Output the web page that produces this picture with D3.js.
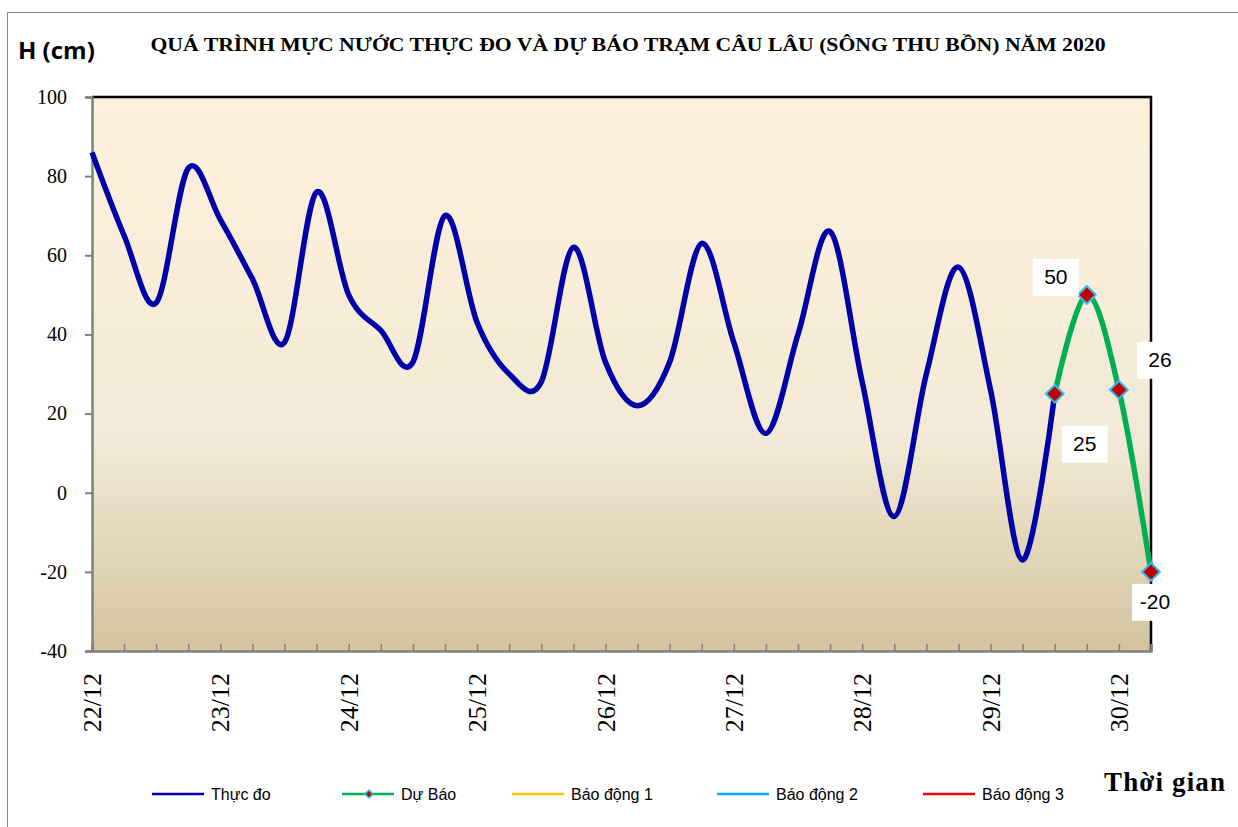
<!DOCTYPE html>
<html>
<head>
<meta charset="utf-8">
<script src="https://cdn.jsdelivr.net/npm/d3@7"></script>
<style>
  html, body { margin: 0; padding: 0; background: #fff; }
  svg { display: block; }
</style>
</head>
<body>
<svg id="chart" width="1238" height="827"></svg>
<script>
// ---------- DATA ----------
const dayLabels = ["22/12","23/12","24/12","25/12","26/12","27/12","28/12","29/12","30/12"];
const stepsPerDay = 4; // observations every 6 hours
// Observed water level (Thực đo), one value per 6 hours, from 22/12
const observed = [86, 65, 48, 82, 69, 54, 38, 76, 50, 41, 33, 70, 43, 30, 28, 62,
                  33, 22, 33, 63, 38, 15, 40, 66, 28, -6, 30, 57, 26, -17, 25];
// Forecast (Dự Báo), starts at index 30
const forecastStart = 30;
const forecast = [25, 50, 26, -20];
const forecastLabels = ["25", "50", "26", "-20"];
const yTicks = [-40, -20, 0, 20, 40, 60, 80, 100];
const legendItems = [
  { name: "Thực đo", color: "#0000A8", marker: false },
  { name: "Dự Báo", color: "#00B050", marker: true },
  { name: "Báo động 1", color: "#FFC000", marker: false },
  { name: "Báo động 2", color: "#00B0F0", marker: false },
  { name: "Báo động 3", color: "#FF0000", marker: false }
];
const title = "QUÁ TRÌNH MỰC NƯỚC THỰC ĐO VÀ DỰ BÁO TRẠM  CÂU LÂU (SÔNG THU BỒN) NĂM  2020";

// ---------- LAYOUT ----------
const SERIF = "'Liberation Serif', 'Times New Roman', serif";
const SANS = "'Liberation Sans', Arial, sans-serif";
const svg = d3.select("#chart");
const plot = { left: 92, right: 1151, top: 97, bottom: 651 };
const nSteps = forecastStart + forecast.length - 1; // 33

const x = d3.scaleLinear().domain([0, nSteps]).range([plot.left, plot.right]);
const y = d3.scaleLinear().domain([-40, 100]).range([plot.bottom, plot.top]);

// outer frame
svg.append("rect").attr("x", 7.5).attr("y", 12.5).attr("width", 1240).attr("height", 830)
  .attr("fill", "none").attr("stroke", "#8a8a8a").attr("stroke-width", 1);

// gradient background
const defs = svg.append("defs");
const grad = defs.append("linearGradient").attr("id", "bg").attr("x1", 0).attr("y1", 0).attr("x2", 0).attr("y2", 1);
grad.append("stop").attr("offset", "0%").attr("stop-color", "#FDF1DC");
grad.append("stop").attr("offset", "62%").attr("stop-color", "#F2EAD6");
grad.append("stop").attr("offset", "100%").attr("stop-color", "#D3C39F");

svg.append("rect").attr("x", plot.left).attr("y", plot.top)
  .attr("width", plot.right - plot.left).attr("height", plot.bottom - plot.top)
  .attr("fill", "url(#bg)");

// top & right border (black)
svg.append("path")
  .attr("d", `M${plot.left},${plot.top}H${plot.right}V${plot.bottom}`)
  .attr("fill", "none").attr("stroke", "#000").attr("stroke-width", 2.5);

// y axis
const yAxis = d3.axisLeft(y).tickValues(yTicks).tickSize(7).tickPadding(18).tickFormat(d => String(d));
const gy = svg.append("g").attr("transform", `translate(${plot.left},0)`).call(yAxis);
gy.attr("font-family", null).attr("font-size", null);
gy.select(".domain").attr("stroke", "#808080").attr("stroke-width", 2.5);
gy.selectAll(".tick line").attr("stroke", "#808080").attr("stroke-width", 2);
gy.selectAll(".tick text").style("font-family", SERIF)
  .style("font-size", "20px").attr("fill", "#000");

// x axis (ticks inside, every 6h)
const xAxis = d3.axisBottom(x).tickValues(d3.range(0, nSteps + 1)).tickSize(-7).tickFormat("");
const gx = svg.append("g").attr("transform", `translate(0,${plot.bottom})`).call(xAxis);
gx.select(".domain").attr("stroke", "#808080").attr("stroke-width", 2.5);
gx.selectAll(".tick line").attr("stroke", "#808080").attr("stroke-width", 1.5);

// x labels (rotated day labels)
svg.append("g").selectAll("text").data(dayLabels).join("text")
  .attr("transform", (d, i) => `translate(${x(i * stepsPerDay)},673) rotate(-90)`)
  .attr("text-anchor", "end").attr("dy", "0.35em")
  .style("font-family", SERIF).style("font-size", "26px").attr("fill", "#000")
  .text(d => d);

// lines
const line = d3.line().x(d => x(d[0])).y(d => y(d[1])).curve(d3.curveCardinal.tension(0));
const obsPts = observed.map((v, i) => [i, v]);
const fcPts = forecast.map((v, i) => [forecastStart + i, v]);

svg.append("path").attr("d", line(obsPts)).attr("fill", "none")
  .attr("stroke", "#0000A8").attr("stroke-width", 5.5).attr("stroke-linejoin", "round");
svg.append("path").attr("d", line(fcPts)).attr("fill", "none")
  .attr("stroke", "#00B050").attr("stroke-width", 5.5).attr("stroke-linejoin", "round");

// markers
const diamond = d3.symbol().type(d3.symbolDiamond2).size(200);
svg.append("g").selectAll("path").data(fcPts).join("path")
  .attr("transform", d => `translate(${x(d[0])},${y(d[1])})`)
  .attr("d", diamond).attr("fill", "#C00000").attr("stroke", "#33BBF0").attr("stroke-width", 2);

// data labels (white boxes)
const labelOffsets = [[30, 50], [-31, -18], [41, -30], [4, 30]];
const lblG = svg.append("g");
fcPts.forEach((d, i) => {
  const cx = x(d[0]) + labelOffsets[i][0];
  const cy = y(d[1]) + labelOffsets[i][1];
  const w = 46;
  lblG.append("rect").attr("x", cx - w / 2).attr("y", cy - 18).attr("width", w).attr("height", 37).attr("fill", "#fff");
  lblG.append("text").attr("x", cx).attr("y", cy).attr("dy", "0.35em").attr("text-anchor", "middle")
    .style("font-family", SANS).style("font-size", "21px").attr("fill", "#000")
    .text(forecastLabels[i]);
});

// title
svg.append("text").attr("x", 628).attr("y", 51).attr("text-anchor", "middle")
  .style("font-family", SERIF).attr("font-weight", "bold")
  .style("font-size", "18px").attr("textLength", 955).attr("lengthAdjust", "spacingAndGlyphs")
  .text(title);

// y axis title
svg.append("text").attr("x", 18).attr("y", 59)
  .style("font-family", "'Open Sans', 'Liberation Sans', sans-serif").attr("font-weight", "bold")
  .style("font-size", "24px").text("H (cm)");

// x axis title
svg.append("text").attr("x", 1104).attr("y", 791)
  .style("font-family", SERIF).attr("font-weight", "bold")
  .style("font-size", "27px").attr("textLength", 121).text("Thời gian");

// legend
const legendX = [152, 342, 512, 717, 923];
const lg = svg.append("g");
legendItems.forEach((it, i) => {
  const g = lg.append("g").attr("transform", `translate(${legendX[i]},794)`);
  g.append("line").attr("x1", 0).attr("x2", 52).attr("y1", 0).attr("y2", 0)
    .attr("stroke", it.color).attr("stroke-width", 2.5);
  if (it.marker) {
    g.append("path").attr("transform", "translate(27,0)")
      .attr("d", d3.symbol().type(d3.symbolDiamond2).size(40))
      .attr("fill", "#C00000").attr("stroke", "#33BBF0").attr("stroke-width", 1.5);
  }
  g.append("text").attr("x", 59).attr("y", 0).attr("dy", "0.35em")
    .style("font-family", SANS).style("font-size", "16px").attr("fill", "#000")
    .text(it.name);
});
</script>
</body>
</html>
